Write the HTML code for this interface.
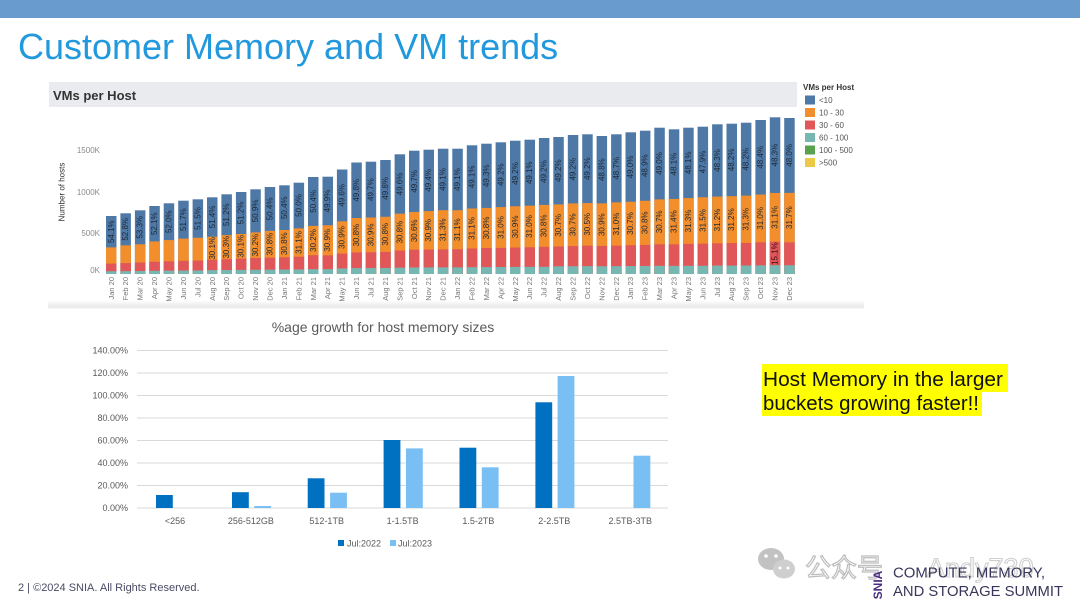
<!DOCTYPE html>
<html><head><meta charset="utf-8"><style>
html,body{margin:0;padding:0;background:#fff;}
body{width:1080px;height:608px;overflow:hidden;}
svg{display:block;font-family:"Liberation Sans",Arial,"Noto Sans CJK SC",sans-serif;}
.b{fill:#4e79a7}.o{fill:#f28e2b}.r{fill:#e15759}.t{fill:#76b7b2}
.lb{font-size:8px;fill:#1c2836;text-anchor:middle;dominant-baseline:central}
.mx{font-size:7.5px;fill:#777;text-anchor:end;dominant-baseline:central}
.yt{font-size:8px;fill:#8a8a8a;text-anchor:end}
.by{font-size:9px;fill:#595959;text-anchor:end}
.bx{font-size:9px;fill:#595959;text-anchor:middle}
</style></head><body>
<svg width="1080" height="608" viewBox="0 0 1080 608" xmlns="http://www.w3.org/2000/svg">
<defs>
<linearGradient id="sh" x1="0" y1="0" x2="0" y2="1"><stop offset="0" stop-color="#fff"/><stop offset="0.8" stop-color="#e9e9e9"/><stop offset="1" stop-color="#fafafa"/></linearGradient>
</defs>
<!-- top band -->
<rect x="0" y="0" width="1080" height="18" fill="#6a9bcf"/>
<text x="18" y="59" font-size="36" fill="#2299dd">Customer Memory and VM trends</text>

<!-- top chart panel -->
<rect x="48" y="300" width="816" height="9" fill="url(#sh)"/>
<rect x="49" y="82" width="748" height="25" fill="#e9ebee"/>
<text x="53" y="100" font-size="13" font-weight="bold" fill="#333">VMs per Host</text>

<text class="yt" x="100" y="153">1500K</text>
<text class="yt" x="100" y="195">1000K</text>
<text class="yt" x="100" y="236">500K</text>
<text class="yt" x="100" y="273">0K</text>
<text font-size="8" fill="#333" text-anchor="middle" dominant-baseline="central" transform="translate(62,192) rotate(-90)">Number of hosts</text>

<!-- bars -->
<g transform="translate(106,274) scale(1,-0.58)"><rect width="10.5" height="100" class="b"/><rect width="10.5" height="45.9" class="o"/><rect width="10.5" height="18" class="r"/><rect width="10.5" height="4.7" class="t"/></g>
<g transform="translate(120.4,274) scale(1,-0.607)"><rect width="10.5" height="100" class="b"/><rect width="10.5" height="47.2" class="o"/><rect width="10.5" height="18" class="r"/><rect width="10.5" height="4.7" class="t"/></g>
<g transform="translate(134.9,274) scale(1,-0.637)"><rect width="10.5" height="100" class="b"/><rect width="10.5" height="46.7" class="o"/><rect width="10.5" height="18" class="r"/><rect width="10.5" height="4.7" class="t"/></g>
<g transform="translate(149.3,274) scale(1,-0.68)"><rect width="10.5" height="100" class="b"/><rect width="10.5" height="47.9" class="o"/><rect width="10.5" height="18" class="r"/><rect width="10.5" height="4.7" class="t"/></g>
<g transform="translate(163.7,274) scale(1,-0.707)"><rect width="10.5" height="100" class="b"/><rect width="10.5" height="48" class="o"/><rect width="10.5" height="18" class="r"/><rect width="10.5" height="4.7" class="t"/></g>
<g transform="translate(178.2,274) scale(1,-0.733)"><rect width="10.5" height="100" class="b"/><rect width="10.5" height="48.3" class="o"/><rect width="10.5" height="18" class="r"/><rect width="10.5" height="4.7" class="t"/></g>
<g transform="translate(192.6,274) scale(1,-0.747)"><rect width="10.5" height="100" class="b"/><rect width="10.5" height="48.5" class="o"/><rect width="10.5" height="18" class="r"/><rect width="10.5" height="4.7" class="t"/></g>
<g transform="translate(207,274) scale(1,-0.767)"><rect width="10.5" height="100" class="b"/><rect width="10.5" height="48.6" class="o"/><rect width="10.5" height="18.5" class="r"/><rect width="10.5" height="5" class="t"/></g>
<g transform="translate(221.4,274) scale(1,-0.797)"><rect width="10.5" height="100" class="b"/><rect width="10.5" height="48.8" class="o"/><rect width="10.5" height="18.5" class="r"/><rect width="10.5" height="5" class="t"/></g>
<g transform="translate(235.9,274) scale(1,-0.82)"><rect width="10.5" height="100" class="b"/><rect width="10.5" height="48.8" class="o"/><rect width="10.5" height="18.7" class="r"/><rect width="10.5" height="5" class="t"/></g>
<g transform="translate(250.3,274) scale(1,-0.847)"><rect width="10.5" height="100" class="b"/><rect width="10.5" height="49.1" class="o"/><rect width="10.5" height="18.9" class="r"/><rect width="10.5" height="5" class="t"/></g>
<g transform="translate(264.7,274) scale(1,-0.87)"><rect width="10.5" height="100" class="b"/><rect width="10.5" height="49.6" class="o"/><rect width="10.5" height="18.8" class="r"/><rect width="10.5" height="5" class="t"/></g>
<g transform="translate(279.2,274) scale(1,-0.887)"><rect width="10.5" height="100" class="b"/><rect width="10.5" height="49.6" class="o"/><rect width="10.5" height="18.8" class="r"/><rect width="10.5" height="5" class="t"/></g>
<g transform="translate(293.6,274) scale(1,-0.913)"><rect width="10.5" height="100" class="b"/><rect width="10.5" height="50" class="o"/><rect width="10.5" height="18.9" class="r"/><rect width="10.5" height="5" class="t"/></g>
<g transform="translate(308,274) scale(1,-0.97)"><rect width="10.5" height="100" class="b"/><rect width="10.5" height="49.6" class="o"/><rect width="10.5" height="19.4" class="r"/><rect width="10.5" height="5" class="t"/></g>
<g transform="translate(322.5,274) scale(1,-0.973)"><rect width="10.5" height="100" class="b"/><rect width="10.5" height="50.1" class="o"/><rect width="10.5" height="19.2" class="r"/><rect width="10.5" height="5" class="t"/></g>
<g transform="translate(336.9,274) scale(1,-1.045)"><rect width="10.5" height="100" class="b"/><rect width="10.5" height="50.4" class="o"/><rect width="10.5" height="19.5" class="r"/><rect width="10.5" height="5.3" class="t"/></g>
<g transform="translate(351.3,274) scale(1,-1.115)"><rect width="10.5" height="100" class="b"/><rect width="10.5" height="50.2" class="o"/><rect width="10.5" height="19.4" class="r"/><rect width="10.5" height="5.3" class="t"/></g>
<g transform="translate(365.7,274) scale(1,-1.123)"><rect width="10.5" height="100" class="b"/><rect width="10.5" height="50.3" class="o"/><rect width="10.5" height="19.4" class="r"/><rect width="10.5" height="5.3" class="t"/></g>
<g transform="translate(380.2,274) scale(1,-1.14)"><rect width="10.5" height="100" class="b"/><rect width="10.5" height="50.2" class="o"/><rect width="10.5" height="19.4" class="r"/><rect width="10.5" height="5.3" class="t"/></g>
<g transform="translate(394.6,274) scale(1,-1.197)"><rect width="10.5" height="100" class="b"/><rect width="10.5" height="50.4" class="o"/><rect width="10.5" height="19.6" class="r"/><rect width="10.5" height="5.3" class="t"/></g>
<g transform="translate(409,274) scale(1,-1.233)"><rect width="10.5" height="100" class="b"/><rect width="10.5" height="50.3" class="o"/><rect width="10.5" height="19.7" class="r"/><rect width="10.5" height="5.3" class="t"/></g>
<g transform="translate(423.5,274) scale(1,-1.243)"><rect width="10.5" height="100" class="b"/><rect width="10.5" height="50.6" class="o"/><rect width="10.5" height="19.7" class="r"/><rect width="10.5" height="5.3" class="t"/></g>
<g transform="translate(437.9,274) scale(1,-1.253)"><rect width="10.5" height="100" class="b"/><rect width="10.5" height="50.9" class="o"/><rect width="10.5" height="19.6" class="r"/><rect width="10.5" height="5.3" class="t"/></g>
<g transform="translate(452.3,274) scale(1,-1.253)"><rect width="10.5" height="100" class="b"/><rect width="10.5" height="50.9" class="o"/><rect width="10.5" height="19.8" class="r"/><rect width="10.5" height="5.3" class="t"/></g>
<g transform="translate(466.8,274) scale(1,-1.287)"><rect width="10.5" height="100" class="b"/><rect width="10.5" height="50.9" class="o"/><rect width="10.5" height="19.8" class="r"/><rect width="10.5" height="5.3" class="t"/></g>
<g transform="translate(481.2,274) scale(1,-1.303)"><rect width="10.5" height="100" class="b"/><rect width="10.5" height="50.7" class="o"/><rect width="10.5" height="19.9" class="r"/><rect width="10.5" height="5.3" class="t"/></g>
<g transform="translate(495.6,274) scale(1,-1.317)"><rect width="10.5" height="100" class="b"/><rect width="10.5" height="50.8" class="o"/><rect width="10.5" height="19.8" class="r"/><rect width="10.5" height="5.3" class="t"/></g>
<g transform="translate(510,274) scale(1,-1.333)"><rect width="10.5" height="100" class="b"/><rect width="10.5" height="50.8" class="o"/><rect width="10.5" height="19.9" class="r"/><rect width="10.5" height="5.3" class="t"/></g>
<g transform="translate(524.5,274) scale(1,-1.343)"><rect width="10.5" height="100" class="b"/><rect width="10.5" height="50.9" class="o"/><rect width="10.5" height="19.9" class="r"/><rect width="10.5" height="5.3" class="t"/></g>
<g transform="translate(538.9,274) scale(1,-1.36)"><rect width="10.5" height="100" class="b"/><rect width="10.5" height="50.8" class="o"/><rect width="10.5" height="20" class="r"/><rect width="10.5" height="5.3" class="t"/></g>
<g transform="translate(553.3,274) scale(1,-1.37)"><rect width="10.5" height="100" class="b"/><rect width="10.5" height="50.8" class="o"/><rect width="10.5" height="20.1" class="r"/><rect width="10.5" height="5.6" class="t"/></g>
<g transform="translate(567.8,274) scale(1,-1.39)"><rect width="10.5" height="100" class="b"/><rect width="10.5" height="50.8" class="o"/><rect width="10.5" height="20.1" class="r"/><rect width="10.5" height="5.6" class="t"/></g>
<g transform="translate(582.2,274) scale(1,-1.397)"><rect width="10.5" height="100" class="b"/><rect width="10.5" height="50.8" class="o"/><rect width="10.5" height="20.3" class="r"/><rect width="10.5" height="5.6" class="t"/></g>
<g transform="translate(596.6,274) scale(1,-1.38)"><rect width="10.5" height="100" class="b"/><rect width="10.5" height="51.2" class="o"/><rect width="10.5" height="20.3" class="r"/><rect width="10.5" height="5.6" class="t"/></g>
<g transform="translate(611.1,274) scale(1,-1.397)"><rect width="10.5" height="100" class="b"/><rect width="10.5" height="51.3" class="o"/><rect width="10.5" height="20.3" class="r"/><rect width="10.5" height="5.6" class="t"/></g>
<g transform="translate(625.5,274) scale(1,-1.417)"><rect width="10.5" height="100" class="b"/><rect width="10.5" height="51" class="o"/><rect width="10.5" height="20.3" class="r"/><rect width="10.5" height="5.6" class="t"/></g>
<g transform="translate(639.9,274) scale(1,-1.433)"><rect width="10.5" height="100" class="b"/><rect width="10.5" height="51.1" class="o"/><rect width="10.5" height="20.3" class="r"/><rect width="10.5" height="5.6" class="t"/></g>
<g transform="translate(654.3,274) scale(1,-1.463)"><rect width="10.5" height="100" class="b"/><rect width="10.5" height="51" class="o"/><rect width="10.5" height="20.3" class="r"/><rect width="10.5" height="5.6" class="t"/></g>
<g transform="translate(668.8,274) scale(1,-1.447)"><rect width="10.5" height="100" class="b"/><rect width="10.5" height="51.9" class="o"/><rect width="10.5" height="20.5" class="r"/><rect width="10.5" height="5.6" class="t"/></g>
<g transform="translate(683.2,274) scale(1,-1.463)"><rect width="10.5" height="100" class="b"/><rect width="10.5" height="51.9" class="o"/><rect width="10.5" height="20.6" class="r"/><rect width="10.5" height="5.6" class="t"/></g>
<g transform="translate(697.6,274) scale(1,-1.473)"><rect width="10.5" height="100" class="b"/><rect width="10.5" height="52.1" class="o"/><rect width="10.5" height="20.6" class="r"/><rect width="10.5" height="5.6" class="t"/></g>
<g transform="translate(712.1,274) scale(1,-1.497)"><rect width="10.5" height="100" class="b"/><rect width="10.5" height="51.7" class="o"/><rect width="10.5" height="20.5" class="r"/><rect width="10.5" height="5.6" class="t"/></g>
<g transform="translate(726.5,274) scale(1,-1.503)"><rect width="10.5" height="100" class="b"/><rect width="10.5" height="51.8" class="o"/><rect width="10.5" height="20.6" class="r"/><rect width="10.5" height="5.6" class="t"/></g>
<g transform="translate(740.9,274) scale(1,-1.513)"><rect width="10.5" height="100" class="b"/><rect width="10.5" height="51.8" class="o"/><rect width="10.5" height="20.5" class="r"/><rect width="10.5" height="5.6" class="t"/></g>
<g transform="translate(755.4,274) scale(1,-1.54)"><rect width="10.5" height="100" class="b"/><rect width="10.5" height="51.6" class="o"/><rect width="10.5" height="20.6" class="r"/><rect width="10.5" height="5.6" class="t"/></g>
<g transform="translate(769.8,274) scale(1,-1.567)"><rect width="10.5" height="100" class="b"/><rect width="10.5" height="51.7" class="o"/><rect width="10.5" height="20.6" class="r"/><rect width="10.5" height="5.6" class="t"/></g>
<g transform="translate(784.2,274) scale(1,-1.56)"><rect width="10.5" height="100" class="b"/><rect width="10.5" height="52" class="o"/><rect width="10.5" height="20.3" class="r"/><rect width="10.5" height="5.6" class="t"/></g>

<!-- blue labels -->
<text class="lb" transform="translate(111.3,231.7) rotate(-90)">54.1%</text>
<text class="lb" transform="translate(125.7,229.3) rotate(-90)">52.8%</text>
<text class="lb" transform="translate(140.1,227.3) rotate(-90)">53.3%</text>
<text class="lb" transform="translate(154.5,223.7) rotate(-90)">52.1%</text>
<text class="lb" transform="translate(169,221.7) rotate(-90)">52.0%</text>
<text class="lb" transform="translate(183.4,219.6) rotate(-90)">51.7%</text>
<text class="lb" transform="translate(197.8,218.5) rotate(-90)">51.5%</text>
<text class="lb" transform="translate(212.3,217) rotate(-90)">51.4%</text>
<text class="lb" transform="translate(226.7,214.7) rotate(-90)">51.2%</text>
<text class="lb" transform="translate(241.1,213) rotate(-90)">51.2%</text>
<text class="lb" transform="translate(255.6,210.9) rotate(-90)">50.9%</text>
<text class="lb" transform="translate(270,208.9) rotate(-90)">50.4%</text>
<text class="lb" transform="translate(284.4,207.7) rotate(-90)">50.4%</text>
<text class="lb" transform="translate(298.8,205.5) rotate(-90)">50.0%</text>
<text class="lb" transform="translate(313.3,201.4) rotate(-90)">50.4%</text>
<text class="lb" transform="translate(327.7,201) rotate(-90)">49.9%</text>
<text class="lb" transform="translate(342.1,195.4) rotate(-90)">49.6%</text>
<text class="lb" transform="translate(356.6,190.3) rotate(-90)">49.8%</text>
<text class="lb" transform="translate(371,189.6) rotate(-90)">49.7%</text>
<text class="lb" transform="translate(385.4,188.4) rotate(-90)">49.8%</text>
<text class="lb" transform="translate(399.9,184) rotate(-90)">49.6%</text>
<text class="lb" transform="translate(414.3,181.3) rotate(-90)">49.7%</text>
<text class="lb" transform="translate(428.7,180.4) rotate(-90)">49.4%</text>
<text class="lb" transform="translate(443.1,179.5) rotate(-90)">49.1%</text>
<text class="lb" transform="translate(457.6,179.5) rotate(-90)">49.1%</text>
<text class="lb" transform="translate(472,176.9) rotate(-90)">49.1%</text>
<text class="lb" transform="translate(486.4,175.8) rotate(-90)">49.3%</text>
<text class="lb" transform="translate(500.9,174.7) rotate(-90)">49.2%</text>
<text class="lb" transform="translate(515.3,173.5) rotate(-90)">49.2%</text>
<text class="lb" transform="translate(529.7,172.7) rotate(-90)">49.1%</text>
<text class="lb" transform="translate(544.2,171.5) rotate(-90)">49.2%</text>
<text class="lb" transform="translate(558.6,170.7) rotate(-90)">49.2%</text>
<text class="lb" transform="translate(573,169.2) rotate(-90)">49.2%</text>
<text class="lb" transform="translate(587.4,168.7) rotate(-90)">49.2%</text>
<text class="lb" transform="translate(601.9,169.7) rotate(-90)">48.8%</text>
<text class="lb" transform="translate(616.3,168.3) rotate(-90)">48.7%</text>
<text class="lb" transform="translate(630.7,167) rotate(-90)">49.0%</text>
<text class="lb" transform="translate(645.2,165.7) rotate(-90)">48.9%</text>
<text class="lb" transform="translate(659.6,163.5) rotate(-90)">49.0%</text>
<text class="lb" transform="translate(674,164.1) rotate(-90)">48.1%</text>
<text class="lb" transform="translate(688.5,162.9) rotate(-90)">48.1%</text>
<text class="lb" transform="translate(702.9,162) rotate(-90)">47.9%</text>
<text class="lb" transform="translate(717.3,160.5) rotate(-90)">48.3%</text>
<text class="lb" transform="translate(731.7,159.9) rotate(-90)">48.2%</text>
<text class="lb" transform="translate(746.2,159.2) rotate(-90)">48.2%</text>
<text class="lb" transform="translate(760.6,157.3) rotate(-90)">48.4%</text>
<text class="lb" transform="translate(775,155.1) rotate(-90)">48.3%</text>
<text class="lb" transform="translate(789.5,155.4) rotate(-90)">48.0%</text>

<!-- orange labels -->
<text class="lb" transform="translate(212.3,248.3) rotate(-90)">30.1%</text>
<text class="lb" transform="translate(226.7,247.2) rotate(-90)">30.3%</text>
<text class="lb" transform="translate(241.1,246.3) rotate(-90)">30.1%</text>
<text class="lb" transform="translate(255.6,245.2) rotate(-90)">30.2%</text>
<text class="lb" transform="translate(270,244.2) rotate(-90)">30.8%</text>
<text class="lb" transform="translate(284.4,243.7) rotate(-90)">30.8%</text>
<text class="lb" transform="translate(298.8,242.5) rotate(-90)">31.1%</text>
<text class="lb" transform="translate(313.3,240.5) rotate(-90)">30.2%</text>
<text class="lb" transform="translate(327.7,240.3) rotate(-90)">30.9%</text>
<text class="lb" transform="translate(342.1,237.5) rotate(-90)">30.9%</text>
<text class="lb" transform="translate(356.6,235.2) rotate(-90)">30.8%</text>
<text class="lb" transform="translate(371,234.9) rotate(-90)">30.9%</text>
<text class="lb" transform="translate(385.4,234.3) rotate(-90)">30.8%</text>
<text class="lb" transform="translate(399.9,232.1) rotate(-90)">30.8%</text>
<text class="lb" transform="translate(414.3,230.8) rotate(-90)">30.6%</text>
<text class="lb" transform="translate(428.7,230.3) rotate(-90)">30.9%</text>
<text class="lb" transform="translate(443.1,229.8) rotate(-90)">31.3%</text>
<text class="lb" transform="translate(457.6,229.7) rotate(-90)">31.1%</text>
<text class="lb" transform="translate(472,228.5) rotate(-90)">31.1%</text>
<text class="lb" transform="translate(486.4,228) rotate(-90)">30.8%</text>
<text class="lb" transform="translate(500.9,227.5) rotate(-90)">31.0%</text>
<text class="lb" transform="translate(515.3,226.9) rotate(-90)">30.9%</text>
<text class="lb" transform="translate(529.7,226.5) rotate(-90)">31.0%</text>
<text class="lb" transform="translate(544.2,225.9) rotate(-90)">30.8%</text>
<text class="lb" transform="translate(558.6,225.4) rotate(-90)">30.7%</text>
<text class="lb" transform="translate(573,224.7) rotate(-90)">30.7%</text>
<text class="lb" transform="translate(587.4,224.3) rotate(-90)">30.5%</text>
<text class="lb" transform="translate(601.9,224.7) rotate(-90)">30.9%</text>
<text class="lb" transform="translate(616.3,224) rotate(-90)">31.0%</text>
<text class="lb" transform="translate(630.7,223.5) rotate(-90)">30.7%</text>
<text class="lb" transform="translate(645.2,222.8) rotate(-90)">30.8%</text>
<text class="lb" transform="translate(659.6,221.8) rotate(-90)">30.7%</text>
<text class="lb" transform="translate(674,221.6) rotate(-90)">31.4%</text>
<text class="lb" transform="translate(688.5,221) rotate(-90)">31.3%</text>
<text class="lb" transform="translate(702.9,220.5) rotate(-90)">31.5%</text>
<text class="lb" transform="translate(717.3,220) rotate(-90)">31.2%</text>
<text class="lb" transform="translate(731.7,219.6) rotate(-90)">31.2%</text>
<text class="lb" transform="translate(746.2,219.3) rotate(-90)">31.3%</text>
<text class="lb" transform="translate(760.6,218.4) rotate(-90)">31.0%</text>
<text class="lb" transform="translate(775,217.4) rotate(-90)">31.1%</text>
<text class="lb" transform="translate(789.5,217.6) rotate(-90)">31.7%</text>
<text class="lb" style="fill:#3a0a14" transform="translate(775,253.6) rotate(-90)">15.1%</text>

<!-- month labels -->
<text class="mx" transform="translate(111.3,277) rotate(-90)">Jan 20</text>
<text class="mx" transform="translate(125.7,277) rotate(-90)">Feb 20</text>
<text class="mx" transform="translate(140.1,277) rotate(-90)">Mar 20</text>
<text class="mx" transform="translate(154.5,277) rotate(-90)">Apr 20</text>
<text class="mx" transform="translate(169,277) rotate(-90)">May 20</text>
<text class="mx" transform="translate(183.4,277) rotate(-90)">Jun 20</text>
<text class="mx" transform="translate(197.8,277) rotate(-90)">Jul 20</text>
<text class="mx" transform="translate(212.3,277) rotate(-90)">Aug 20</text>
<text class="mx" transform="translate(226.7,277) rotate(-90)">Sep 20</text>
<text class="mx" transform="translate(241.1,277) rotate(-90)">Oct 20</text>
<text class="mx" transform="translate(255.6,277) rotate(-90)">Nov 20</text>
<text class="mx" transform="translate(270,277) rotate(-90)">Dec 20</text>
<text class="mx" transform="translate(284.4,277) rotate(-90)">Jan 21</text>
<text class="mx" transform="translate(298.8,277) rotate(-90)">Feb 21</text>
<text class="mx" transform="translate(313.3,277) rotate(-90)">Mar 21</text>
<text class="mx" transform="translate(327.7,277) rotate(-90)">Apr 21</text>
<text class="mx" transform="translate(342.1,277) rotate(-90)">May 21</text>
<text class="mx" transform="translate(356.6,277) rotate(-90)">Jun 21</text>
<text class="mx" transform="translate(371,277) rotate(-90)">Jul 21</text>
<text class="mx" transform="translate(385.4,277) rotate(-90)">Aug 21</text>
<text class="mx" transform="translate(399.9,277) rotate(-90)">Sep 21</text>
<text class="mx" transform="translate(414.3,277) rotate(-90)">Oct 21</text>
<text class="mx" transform="translate(428.7,277) rotate(-90)">Nov 21</text>
<text class="mx" transform="translate(443.1,277) rotate(-90)">Dec 21</text>
<text class="mx" transform="translate(457.6,277) rotate(-90)">Jan 22</text>
<text class="mx" transform="translate(472,277) rotate(-90)">Feb 22</text>
<text class="mx" transform="translate(486.4,277) rotate(-90)">Mar 22</text>
<text class="mx" transform="translate(500.9,277) rotate(-90)">Apr 22</text>
<text class="mx" transform="translate(515.3,277) rotate(-90)">May 22</text>
<text class="mx" transform="translate(529.7,277) rotate(-90)">Jun 22</text>
<text class="mx" transform="translate(544.2,277) rotate(-90)">Jul 22</text>
<text class="mx" transform="translate(558.6,277) rotate(-90)">Aug 22</text>
<text class="mx" transform="translate(573,277) rotate(-90)">Sep 22</text>
<text class="mx" transform="translate(587.4,277) rotate(-90)">Oct 22</text>
<text class="mx" transform="translate(601.9,277) rotate(-90)">Nov 22</text>
<text class="mx" transform="translate(616.3,277) rotate(-90)">Dec 22</text>
<text class="mx" transform="translate(630.7,277) rotate(-90)">Jan 23</text>
<text class="mx" transform="translate(645.2,277) rotate(-90)">Feb 23</text>
<text class="mx" transform="translate(659.6,277) rotate(-90)">Mar 23</text>
<text class="mx" transform="translate(674,277) rotate(-90)">Apr 23</text>
<text class="mx" transform="translate(688.5,277) rotate(-90)">May 23</text>
<text class="mx" transform="translate(702.9,277) rotate(-90)">Jun 23</text>
<text class="mx" transform="translate(717.3,277) rotate(-90)">Jul 23</text>
<text class="mx" transform="translate(731.7,277) rotate(-90)">Aug 23</text>
<text class="mx" transform="translate(746.2,277) rotate(-90)">Sep 23</text>
<text class="mx" transform="translate(760.6,277) rotate(-90)">Oct 23</text>
<text class="mx" transform="translate(775,277) rotate(-90)">Nov 23</text>
<text class="mx" transform="translate(789.5,277) rotate(-90)">Dec 23</text>

<!-- legend -->
<text x="803" y="90" font-size="8" font-weight="bold" fill="#333">VMs per Host</text>
<rect x="805" y="95.5" width="10" height="9" class="b"/><text x="819" y="103" font-size="8" fill="#555">&lt;10</text>
<rect x="805" y="108" width="10" height="9" class="o"/><text x="819" y="115.5" font-size="8" fill="#555">10 - 30</text>
<rect x="805" y="120.5" width="10" height="9" class="r"/><text x="819" y="128" font-size="8" fill="#555">30 - 60</text>
<rect x="805" y="133" width="10" height="9" class="t"/><text x="819" y="140.5" font-size="8" fill="#555">60 - 100</text>
<rect x="805" y="145.5" width="10" height="9" fill="#59a14f"/><text x="819" y="153" font-size="8" fill="#555">100 - 500</text>
<rect x="805" y="158" width="10" height="9" fill="#edc948"/><text x="819" y="165.5" font-size="8" fill="#555">&gt;500</text>

<!-- bottom chart -->
<text x="383" y="332" font-size="14" fill="#595959" text-anchor="middle">%age growth for host memory sizes</text>
<g stroke="#d9d9d9" stroke-width="1">
<line x1="137" y1="350.5" x2="668" y2="350.5"/>
<line x1="137" y1="373" x2="668" y2="373"/>
<line x1="137" y1="395.5" x2="668" y2="395.5"/>
<line x1="137" y1="418" x2="668" y2="418"/>
<line x1="137" y1="440.5" x2="668" y2="440.5"/>
<line x1="137" y1="463" x2="668" y2="463"/>
<line x1="137" y1="485.5" x2="668" y2="485.5"/>
<line x1="137" y1="508" x2="668" y2="508"/>
</g>
<text class="by" x="128" y="353.5">140.00%</text>
<text class="by" x="128" y="376">120.00%</text>
<text class="by" x="128" y="398.5">100.00%</text>
<text class="by" x="128" y="421">80.00%</text>
<text class="by" x="128" y="443.5">60.00%</text>
<text class="by" x="128" y="466">40.00%</text>
<text class="by" x="128" y="488.5">20.00%</text>
<text class="by" x="128" y="511">0.00%</text>

<g fill="#0070c0">
<rect x="156" y="495" width="16.8" height="13"/>
<rect x="232" y="492.2" width="16.8" height="15.8"/>
<rect x="307.7" y="478.3" width="16.8" height="29.7"/>
<rect x="383.6" y="440" width="16.8" height="68"/>
<rect x="459.5" y="447.7" width="16.8" height="60.3"/>
<rect x="535.4" y="402.3" width="16.8" height="105.7"/>
</g>
<g fill="#7abff4">
<rect x="254.3" y="506" width="16.8" height="2"/>
<rect x="330.1" y="492.7" width="16.8" height="15.3"/>
<rect x="406" y="448.4" width="16.8" height="59.6"/>
<rect x="481.8" y="467.3" width="16.8" height="40.7"/>
<rect x="557.6" y="376" width="16.8" height="132"/>
<rect x="633.5" y="455.7" width="16.8" height="52.3"/>
</g>
<text class="bx" x="175" y="524">&lt;256</text>
<text class="bx" x="250.9" y="524">256-512GB</text>
<text class="bx" x="326.7" y="524">512-1TB</text>
<text class="bx" x="402.6" y="524">1-1.5TB</text>
<text class="bx" x="478.4" y="524">1.5-2TB</text>
<text class="bx" x="554.3" y="524">2-2.5TB</text>
<text class="bx" x="630.2" y="524">2.5TB-3TB</text>

<rect x="338" y="540" width="6" height="6" fill="#0070c0"/>
<text x="347" y="546.5" font-size="9" fill="#595959">Jul:2022</text>
<rect x="390" y="540" width="6" height="6" fill="#7abff4"/>
<text x="398" y="546.5" font-size="9" fill="#595959">Jul:2023</text>

<!-- callout -->
<rect x="762" y="364" width="246" height="28" fill="#ffff00"/>
<rect x="762" y="392" width="220" height="24" fill="#ffff00"/>
<text x="763" y="386" font-size="20.5" fill="#111" textLength="240" lengthAdjust="spacingAndGlyphs">Host Memory in the larger</text>
<text x="763" y="410" font-size="20.5" fill="#111" textLength="216" lengthAdjust="spacingAndGlyphs">buckets growing faster!!</text>

<!-- footer -->
<text x="18" y="591" font-size="11" fill="#4a4a66">2 | ©2024 SNIA. All Rights Reserved.</text>

<!-- watermark -->
<g fill="#b4b4b4" opacity="0.8">
<ellipse cx="771" cy="559" rx="13" ry="11"/>
<ellipse cx="784" cy="569" rx="11" ry="9.5" fill="#c4c4c4"/>
<circle cx="766" cy="556" r="1.8" fill="#fff"/><circle cx="776" cy="556" r="1.8" fill="#fff"/>
<circle cx="780" cy="568" r="1.5" fill="#fff"/><circle cx="788" cy="568" r="1.5" fill="#fff"/>
</g>
<text x="805" y="577" font-size="26" fill="none" stroke="#bdbdbd" stroke-width="1.2" font-family="'Liberation Sans','Noto Sans CJK SC',sans-serif">公众号</text>
<text x="927" y="577" font-size="27" fill="none" stroke="#cfcfcf" stroke-width="1.1">Andy730</text>

<!-- logo -->
<text font-size="12" font-weight="bold" fill="#4b2d83" text-anchor="middle" dominant-baseline="central" transform="translate(878,585) rotate(-90)">SNIA</text>
<text x="893" y="577.5" font-size="15" fill="#38365a" textLength="152" lengthAdjust="spacingAndGlyphs">COMPUTE, MEMORY,</text>
<text x="893" y="596" font-size="15" fill="#38365a" textLength="170" lengthAdjust="spacingAndGlyphs">AND STORAGE SUMMIT</text>
</svg>
</body></html>
